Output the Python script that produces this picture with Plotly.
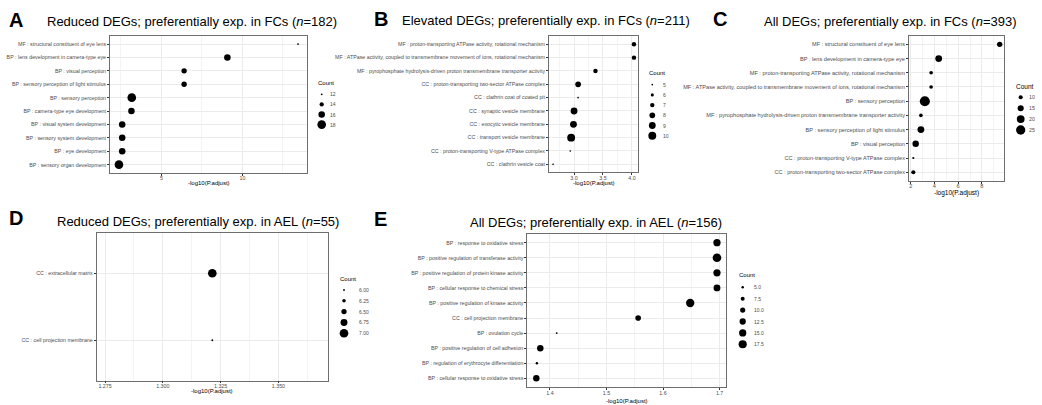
import numpy as np
import plotly.graph_objects as go

W, H = 1042, 405

# ---------------- data ----------------
A_terms = ["MF : structural constituent of eye lens",
           "BP : lens development in camera-type eye",
           "BP : visual perception",
           "BP : sensory perception of light stimulus",
           "BP : sensory perception",
           "BP : camera-type eye development",
           "BP : visual system development",
           "BP : sensory system development",
           "BP : eye development",
           "BP : sensory organ development"]
A_logp = [13.43, 9.07, 6.40, 6.40, 3.17, 3.15, 2.58, 2.58, 2.58, 2.38]
A_count = [12, 16, 15, 15, 18, 16, 16, 16, 16, 18]
A_breaks = [12, 14, 16, 18]
A_blabels = ["12", "14", "16", "18"]

B_terms = ["MF : proton-transporting ATPase activity, rotational mechanism",
           "MF : ATPase activity, coupled to transmembrane movement of ions, rotational mechanism",
           "MF : pyrophosphate hydrolysis-driven proton transmembrane transporter activity",
           "CC : proton-transporting two-sector ATPase complex",
           "CC : clathrin coat of coated pit",
           "CC : synaptic vesicle membrane",
           "CC : exocytic vesicle membrane",
           "CC : transport vesicle membrane",
           "CC : proton-transporting V-type ATPase complex",
           "CC : clathrin vesicle coat"]
B_logp = [4.035, 4.035, 3.37, 3.07, 3.07, 3.00, 2.99, 2.95, 2.935, 2.637]
B_count = [7, 7, 7, 8, 5, 9, 9, 10, 5, 5]
B_breaks = [5, 6, 7, 8, 9, 10]
B_blabels = ["5", "6", "7", "8", "9", "10"]

C_terms = ["MF : structural constituent of eye lens",
           "BP : lens development in camera-type eye",
           "MF : proton-transporting ATPase activity, rotational mechanism",
           "MF : ATPase activity, coupled to transmembrane movement of ions, rotational mechanism",
           "BP : sensory perception",
           "MF : pyrophosphate hydrolysis-driven proton transmembrane transporter activity",
           "BP : sensory perception of light stimulus",
           "BP : visual perception",
           "CC : proton-transporting V-type ATPase complex",
           "CC : proton-transporting two-sector ATPase complex"]
C_logp = [9.50, 4.36, 3.72, 3.72, 3.19, 2.86, 2.86, 2.42, 2.22, 2.22]
C_count = [13, 17, 9, 9, 28, 9, 17, 16, 6, 10]
C_breaks = [10, 15, 20, 25]
C_blabels = ["10", "15", "20", "25"]

D_terms = ["CC : extracellular matrix",
           "CC : cell projection membrane"]
D_logp = [1.3214, 1.3214]
D_count = [7, 6]
D_breaks = [6.0, 6.25, 6.5, 6.75, 7.0]
D_blabels = ["6.00", "6.25", "6.50", "6.75", "7.00"]

E_terms = ["BP : response to oxidative stress",
           "BP : positive regulation of transferase activity",
           "BP : positive regulation of protein kinase activity",
           "BP : cellular response to chemical stress",
           "BP : positive regulation of kinase activity",
           "CC : cell projection membrane",
           "BP : ovulation cycle",
           "BP : positive regulation of cell adhesion",
           "BP : regulation of erythrocyte differentiation",
           "BP : cellular response to oxidative stress"]
E_logp = [1.6953, 1.6953, 1.6953, 1.6953, 1.648, 1.556, 1.412, 1.383, 1.377, 1.376]
E_count = [15, 19, 15, 14, 18, 11, 4, 13, 5, 13]
E_breaks = [5.0, 7.5, 10.0, 12.5, 15.0, 17.5]
E_blabels = ["5.0", "7.5", "10.0", "12.5", "15.0", "17.5"]

TITLES = {
    "A": "Reduced DEGs; preferentially exp. in FCs (<i>n</i>=182)",
    "B": "Elevated DEGs; preferentially exp. in FCs (<i>n</i>=211)",
    "C": "All DEGs; preferentially exp. in FCs (<i>n</i>=393)",
    "D": "Reduced DEGs; preferentially exp. in AEL (<i>n</i>=55)",
    "E": "All DEGs; preferentially exp. in AEL (<i>n</i>=156)",
}
XTITLE = "-log10(P.adjust)"

# ---------------- layout / style ----------------
FONT = "Liberation Sans, Arial, sans-serif"
GRID = "#EBEBEB"
MINOR = "#F4F4F4"
BORDER = "#6e6e6e"
TXT = "#4D4D4D"

panels = [
    dict(key="A", terms=A_terms, x=A_logp, cnt=A_count, breaks=A_breaks, blabels=A_blabels,
         box=(110, 36, 307, 172.7), dtick=5, mdtick=2.5, fmt="", k=0.48, tf=5.3, tt=6.0, xt=182.7,
         letter=(7, 20), title=(45, 21.5), leg=(316, 83.3, 94.3, 10.1, 321.7, 328.0), zero=None),
    dict(key="B", terms=B_terms, x=B_logp, cnt=B_count, breaks=B_breaks, blabels=B_blabels,
         box=(549, 36.3, 638, 172.3), dtick=0.5, mdtick=0.25, fmt=".1f", k=0.44, tf=5.3, tt=6.0, xt=182.7,
         letter=(372, 18.5), title=(400, 20.8), leg=(647.3, 72.7, 84.7, 10.2, 652.3, 660.7), zero=None),
    dict(key="C", terms=C_terms, x=C_logp, cnt=C_count, breaks=C_breaks, blabels=C_blabels,
         box=(909, 35.8, 1004, 180.8), dtick=2, mdtick=1, fmt="", k=0.56, tf=5.6, tt=6.5, xt=193.0,
         letter=(710.7, 18.5), title=(761.7, 21.5), leg=(1014.3, 86.0, 97.3, 10.9, 1020.7, 1026.7), zero=None),
    dict(key="D", terms=D_terms, x=D_logp, cnt=D_count, breaks=D_breaks, blabels=D_blabels,
         box=(96.7, 233, 327.9, 380.5), dtick=0.025, mdtick=0.0125, fmt=".3f", k=0.48, tf=5.3, tt=6.0, xt=390.7,
         letter=(7, 217.5), title=(55, 221), leg=(338, 279, 290, 10.8, 344, 357), zero=0.05),
    dict(key="E", terms=E_terms, x=E_logp, cnt=E_count, breaks=E_breaks, blabels=E_blabels,
         box=(527.3, 233.7, 726, 387.3), dtick=0.1, mdtick=0.05, fmt=".1f", k=0.48, tf=5.3, tt=6.0, xt=400.5,
         letter=(371.7, 219), title=(468.3, 222), leg=(737, 275, 287.3, 11.4, 742.7, 751.7), zero=None),
]


def ggsize(c, lo, hi, k):
    c = np.asarray(c, float)
    s = 1 + 5 * (np.sqrt(c) - np.sqrt(lo)) / (np.sqrt(hi) - np.sqrt(lo))
    return k * (s * 2.845 + 0.945)


fig = go.Figure()
layout = {}
ann = []
ov = len(panels) + 1  # overlay axis index for legend keys

for i, p in enumerate(panels, start=1):
    xs = "" if i == 1 else str(i)
    x0, y0, x1, y1 = p["box"]
    n = len(p["terms"])
    xv = np.asarray(p["x"], float)
    lo_c, hi_c = min(p["cnt"]), max(p["cnt"])
    if p["zero"] is not None:
        c = xv.mean()
        xr = [c - p["zero"], c + p["zero"]]
    else:
        w = xv.max() - xv.min()
        xr = [xv.min() - 0.05 * w, xv.max() + 0.05 * w]
    yv = [n - 1 - j for j in range(n)]
    fig.add_trace(go.Scatter(
        x=xv, y=yv, mode="markers", xaxis="x" + xs, yaxis="y" + xs,
        marker=dict(color="black", opacity=1, size=ggsize(p["cnt"], lo_c, hi_c, p["k"]), line=dict(width=0)),
        showlegend=False, hoverinfo="skip"))

    layout["xaxis" + xs] = dict(
        domain=[x0 / W, x1 / W], anchor="y" + xs, range=xr, automargin=False,
        tick0=0, dtick=p["dtick"], tickformat=p["fmt"],
        ticks="outside", ticklen=2, tickwidth=0.6, tickcolor="#333333", ticklabelstandoff=-2,
        tickfont=dict(family=FONT, size=p["tf"], color=TXT),
        showline=True, mirror=True, linecolor=BORDER, linewidth=0.8,
        showgrid=True, gridcolor=GRID, gridwidth=0.8, zeroline=False,
        minor=dict(dtick=p["mdtick"], tick0=0, showgrid=True, gridcolor=MINOR, gridwidth=0.5, ticks=""),
    )
    layout["yaxis" + xs] = dict(
        domain=[1 - y1 / H, 1 - y0 / H], anchor="x" + xs, range=[-0.6, n - 0.4], automargin=False,
        tickvals=yv, ticktext=p["terms"],
        ticks="outside", ticklen=2, tickwidth=0.6, tickcolor="#333333",
        tickfont=dict(family=FONT, size=p["tf"], color=TXT),
        showline=True, mirror=True, linecolor=BORDER, linewidth=0.8,
        showgrid=True, gridcolor=GRID, gridwidth=0.8, zeroline=False,
    )

    # x axis title
    ann.append(dict(text=XTITLE, x=(x0 + x1) / 2 / W, y=1 - p["xt"] / H, xref="paper", yref="paper",
                    xanchor="center", yanchor="middle", showarrow=False,
                    font=dict(family=FONT, size=p["tt"], color="black")))

    # panel letter and title
    lx, ly = p["letter"]
    ann.append(dict(text="<b>%s</b>" % p["key"], x=lx / W, y=1 - ly / H, xref="paper", yref="paper",
                    xanchor="left", yanchor="middle", showarrow=False,
                    font=dict(family="Liberation Sans, Arial Black, sans-serif", size=20, color="black")))
    tx, ty = p["title"]
    ann.append(dict(text=TITLES[p["key"]], x=tx / W, y=1 - ty / H, xref="paper", yref="paper",
                    xanchor="left", yanchor="middle", showarrow=False,
                    font=dict(family=FONT, size=13, color="black")))

    # size legend
    gx, gy, fy, step, dx, labx = p["leg"]
    ann.append(dict(text="Count", x=gx / W, y=1 - gy / H, xref="paper", yref="paper",
                    xanchor="left", yanchor="middle", showarrow=False,
                    font=dict(family=FONT, size=p["tt"], color="black")))
    ly_pos = [fy + step * j for j in range(len(p["breaks"]))]
    fig.add_trace(go.Scatter(
        x=[dx] * len(p["breaks"]), y=ly_pos, mode="markers",
        xaxis="x%d" % ov, yaxis="y%d" % ov,
        marker=dict(color="black", opacity=1, size=ggsize(p["breaks"], lo_c, hi_c, p["k"]), line=dict(width=0)),
        showlegend=False, hoverinfo="skip"))
    for yy, lab in zip(ly_pos, p["blabels"]):
        ann.append(dict(text=lab, x=labx / W, y=1 - yy / H, xref="paper", yref="paper",
                        xanchor="left", yanchor="middle", showarrow=False,
                        font=dict(family=FONT, size=p["tf"] - 0.3, color=TXT)))

layout["xaxis%d" % ov] = dict(domain=[0, 1], range=[0, W], visible=False, anchor="y%d" % ov,
                              fixedrange=True, automargin=False)
layout["yaxis%d" % ov] = dict(domain=[0, 1], range=[H, 0], visible=False, anchor="x%d" % ov,
                              fixedrange=True, automargin=False)

fig.update_layout(**layout)
fig.update_layout(
    width=W, height=H, margin=dict(l=0, r=0, t=0, b=0),
    paper_bgcolor="white", plot_bgcolor="rgba(0,0,0,0)",
    showlegend=False, annotations=ann,
    font=dict(family=FONT),
)
fig.write_html("out.html")
